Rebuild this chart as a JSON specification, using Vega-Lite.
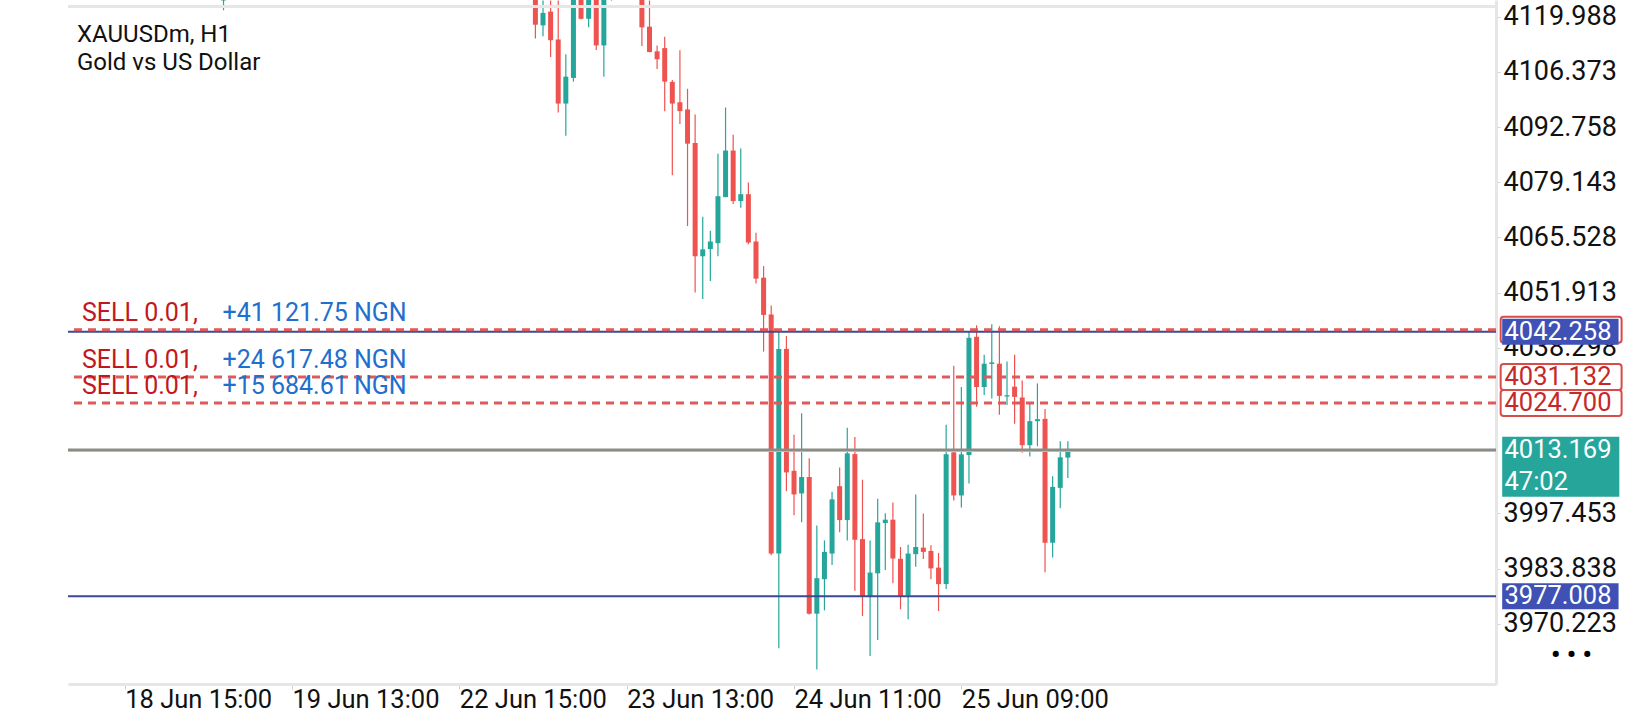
{
  "$schema": "https://vega.github.io/schema/vega-lite/v6.json",
  "width": 1428,
  "height": 684,
  "autosize": "none",
  "padding": {"left": 68, "top": 0, "right": 144, "bottom": 36},
  "background": "#ffffff",
  "title": {
    "text": "XAUUSDm, H1",
    "subtitle": "Gold vs US Dollar",
    "anchor": "start",
    "frame": "group",
    "orient": "top",
    "offset": -75,
    "dx": 9,
    "font": "Roboto",
    "fontSize": 24,
    "fontWeight": "normal",
    "color": "#111111",
    "subtitleFont": "Roboto",
    "subtitleFontSize": 24,
    "subtitleColor": "#111111",
    "subtitlePadding": 4
  },
  "datasets": {
    "candles": [
      {"i": 13, "o": 4124, "h": 4130, "l": 4121.6, "c": 4128},
      {"i": 54, "o": 4127, "h": 4129, "l": 4114.62, "c": 4118.03},
      {"i": 55, "o": 4117.86, "h": 4124, "l": 4115.18, "c": 4120.94},
      {"i": 56, "o": 4121.26, "h": 4124, "l": 4110.07, "c": 4114.21},
      {"i": 57, "o": 4114.38, "h": 4124, "l": 4096.38, "c": 4098.57},
      {"i": 58, "o": 4098.57, "h": 4110.73, "l": 4090.62, "c": 4105.21},
      {"i": 59, "o": 4104.89, "h": 4128, "l": 4103.99, "c": 4126},
      {"i": 60, "o": 4126, "h": 4128, "l": 4119.3, "c": 4119.48},
      {"i": 61, "o": 4119.48, "h": 4127, "l": 4117.37, "c": 4125},
      {"i": 62, "o": 4127, "h": 4129, "l": 4111.78, "c": 4112.92},
      {"i": 63, "o": 4112.92, "h": 4128, "l": 4105.21, "c": 4126},
      {"i": 64, "o": 4126, "h": 4134, "l": 4124, "c": 4132},
      {"i": 65, "o": 4132, "h": 4135, "l": 4125, "c": 4128},
      {"i": 66, "o": 4128, "h": 4136, "l": 4126, "c": 4133},
      {"i": 67, "o": 4133, "h": 4135, "l": 4125, "c": 4127},
      {"i": 68, "o": 4127, "h": 4129, "l": 4112.75, "c": 4117.37},
      {"i": 69, "o": 4117.54, "h": 4124, "l": 4111.2, "c": 4111.29},
      {"i": 70, "o": 4111.46, "h": 4112.92, "l": 4107.08, "c": 4109.51},
      {"i": 71, "o": 4112.26, "h": 4115.03, "l": 4096.7, "c": 4103.99},
      {"i": 72, "o": 4103.92, "h": 4104.41, "l": 4080.9, "c": 4098.57},
      {"i": 73, "o": 4098.89, "h": 4111.7, "l": 4093.54, "c": 4096.7},
      {"i": 74, "o": 4097.12, "h": 4102.22, "l": 4068.35, "c": 4088.68},
      {"i": 75, "o": 4088.85, "h": 4095.9, "l": 4051.97, "c": 4060.89},
      {"i": 76, "o": 4060.89, "h": 4070.62, "l": 4050.36, "c": 4062.59},
      {"i": 77, "o": 4062.66, "h": 4067.21, "l": 4054.81, "c": 4064.54},
      {"i": 78, "o": 4064.12, "h": 4086.18, "l": 4060.89, "c": 4075.72},
      {"i": 79, "o": 4075.48, "h": 4097.6, "l": 4075.48, "c": 4086.98},
      {"i": 80, "o": 4086.98, "h": 4090.87, "l": 4073.78, "c": 4074.51},
      {"i": 81, "o": 4074.51, "h": 4087.46, "l": 4072.88, "c": 4076.21},
      {"i": 82, "o": 4076.21, "h": 4079.12, "l": 4063.88, "c": 4064.29},
      {"i": 83, "o": 4064.54, "h": 4066.72, "l": 4054.15, "c": 4055.37},
      {"i": 84, "o": 4055.61, "h": 4058.46, "l": 4037.38, "c": 4046.42},
      {"i": 85, "o": 4046.55, "h": 4048.73, "l": 3987.15, "c": 3987.54},
      {"i": 86, "o": 3987.54, "h": 4042.24, "l": 3964.2, "c": 4038.04},
      {"i": 87, "o": 4038.04, "h": 4041.2, "l": 4002.95, "c": 4007.57},
      {"i": 88, "o": 4007.96, "h": 4016.88, "l": 3997.02, "c": 4002.13},
      {"i": 89, "o": 4002.37, "h": 4022.16, "l": 3995.24, "c": 4006.43},
      {"i": 90, "o": 4006.43, "h": 4011.05, "l": 3972.5, "c": 3972.71},
      {"i": 91, "o": 3972.71, "h": 3994.44, "l": 3958.95, "c": 3981.46},
      {"i": 92, "o": 3981.22, "h": 3990.79, "l": 3973.53, "c": 3987.95},
      {"i": 93, "o": 3987.54, "h": 4002.78, "l": 3984.72, "c": 4000.91},
      {"i": 94, "o": 4004.17, "h": 4008.79, "l": 3992.81, "c": 3995.8},
      {"i": 95, "o": 3995.8, "h": 4018.59, "l": 3990.79, "c": 4012.26},
      {"i": 96, "o": 4012.09, "h": 4016.32, "l": 3978.39, "c": 3990.94},
      {"i": 97, "o": 3991.11, "h": 4005.77, "l": 3972.15, "c": 3976.84},
      {"i": 98, "o": 3976.84, "h": 3990.79, "l": 3962.25, "c": 3982.85},
      {"i": 99, "o": 3982.67, "h": 4001.08, "l": 3966.24, "c": 3995.24},
      {"i": 100, "o": 3995.07, "h": 3997.51, "l": 3983.5, "c": 3995.9},
      {"i": 101, "o": 3995.9, "h": 4000.11, "l": 3980.24, "c": 3986.32},
      {"i": 102, "o": 3986.25, "h": 3989.16, "l": 3973.78, "c": 3977.01},
      {"i": 103, "o": 3977.18, "h": 3989.72, "l": 3971.34, "c": 3987.54},
      {"i": 104, "o": 3987.39, "h": 4002.13, "l": 3984.3, "c": 3989.16},
      {"i": 105, "o": 3989.0, "h": 3997.43, "l": 3986.17, "c": 3987.95},
      {"i": 106, "o": 3988.19, "h": 3989.58, "l": 3981.22, "c": 3983.89},
      {"i": 107, "o": 3984.06, "h": 3987.7, "l": 3973.36, "c": 3980.0},
      {"i": 108, "o": 3980.0, "h": 4019.31, "l": 3978.78, "c": 4012.02},
      {"i": 109, "o": 4012.51, "h": 4033.9, "l": 4000.66, "c": 4001.88},
      {"i": 110, "o": 4001.88, "h": 4028.63, "l": 3998.89, "c": 4012.02},
      {"i": 111, "o": 4011.85, "h": 4042.24, "l": 4004.8, "c": 4040.78},
      {"i": 112, "o": 4041.03, "h": 4043.87, "l": 4023.76, "c": 4028.63},
      {"i": 113, "o": 4028.63, "h": 4036.58, "l": 4026.68, "c": 4034.39},
      {"i": 114, "o": 4034.32, "h": 4044.11, "l": 4025.81, "c": 4034.7},
      {"i": 115, "o": 4034.39, "h": 4043.63, "l": 4021.82, "c": 4026.44},
      {"i": 116, "o": 4026.29, "h": 4034.95, "l": 4024.18, "c": 4026.61},
      {"i": 117, "o": 4028.72, "h": 4036.58, "l": 4019.56, "c": 4026.2},
      {"i": 118, "o": 4026.05, "h": 4030.26, "l": 4012.43, "c": 4014.28},
      {"i": 119, "o": 4014.28, "h": 4024.42, "l": 4011.46, "c": 4020.21},
      {"i": 120, "o": 4020.21, "h": 4029.53, "l": 4014.04, "c": 4020.7},
      {"i": 121, "o": 4020.77, "h": 4023.2, "l": 3982.92, "c": 3990.21},
      {"i": 122, "o": 3990.21, "h": 4006.6, "l": 3986.56, "c": 4003.99},
      {"i": 123, "o": 4003.75, "h": 4015.25, "l": 3998.72, "c": 4011.29},
      {"i": 124, "o": 4011.22, "h": 4015.25, "l": 4006.18, "c": 4013.169}
    ],
    "orders": [
      {"price": 4042.77, "side": "SELL 0.01,", "profit": "+41 121.75 NGN", "label": ""},
      {"price": 4031.132, "side": "SELL 0.01,", "profit": "+24 617.48 NGN", "label": "4031.132"},
      {"price": 4024.7, "side": "SELL 0.01,", "profit": "+15 684.61 NGN", "label": "4024.700"}
    ],
    "hilo": [
      {"price": 4042.258, "label": "4042.258"},
      {"price": 3977.008, "label": "3977.008"}
    ],
    "last": [
      {"price": 4013.169, "label": "4013.169", "timer": "47:02"}
    ]
  },
  "layer": [
    {
      "data": {"name": "candles"},
      "mark": {"type": "rule", "clip": true, "strokeWidth": 1.2},
      "encoding": {
        "x": {
          "field": "i",
          "type": "quantitative",
          "scale": {"domain": [-6.79, 179.63], "nice": false, "zero": false},
          "axis": {
            "orient": "bottom",
            "values": [0, 22, 44, 66, 88, 110],
            "labelExpr": "['18 Jun 15:00','19 Jun 13:00','22 Jun 15:00','23 Jun 13:00','24 Jun 11:00','25 Jun 09:00'][datum.value / 22]",
            "title": null,
            "grid": false,
            "domainColor": "#e6e6e6",
            "domainWidth": 3,
            "tickColor": "#d0d0d0",
            "tickSize": 5,
            "labelAlign": "left",
            "labelBaseline": "alphabetic",
            "labelPadding": 18,
            "labelDx": -3,
            "labelFont": "Roboto",
            "labelFontSize": 25.5,
            "labelColor": "#111111",
            "labelOverlap": false,
            "labelFlush": false
          }
        },
        "y": {
          "field": "l",
          "type": "quantitative",
          "scale": {"domain": [3956.59, 4122.89], "nice": false, "zero": false},
          "axis": {
            "orient": "right",
            "values": [3970.223, 3983.838, 3997.453, 4038.298, 4051.913, 4065.528, 4079.143, 4092.758, 4106.373, 4119.988],
            "format": ".3f",
            "title": null,
            "grid": false,
            "domainColor": "#e6e6e6",
            "domainWidth": 3,
            "tickColor": "#d0d0d0",
            "tickSize": 4,
            "labelAlign": "left",
            "labelBaseline": "middle",
            "labelPadding": 3,
            "labelFont": "Roboto",
            "labelFontSize": 27,
            "labelColor": "#111111",
            "labelOverlap": false,
            "labelFlush": false
          }
        },
        "y2": {"field": "h"},
        "color": {
          "condition": {"test": "datum.o <= datum.c", "value": "#26a69a"},
          "value": "#ef5350"
        }
      }
    },
    {
      "data": {"name": "candles"},
      "mark": {"type": "bar", "clip": true, "width": 5},
      "encoding": {
        "x": {"field": "i", "type": "quantitative"},
        "y": {"field": "o", "type": "quantitative"},
        "y2": {"field": "c"},
        "color": {
          "condition": {"test": "datum.o <= datum.c", "value": "#26a69a"},
          "value": "#ef5350"
        }
      }
    },
    {
      "data": {"values": [{}]},
      "mark": {"type": "rule", "color": "#e6e6e6", "strokeWidth": 3},
      "encoding": {"y": {"datum": 4122.5, "type": "quantitative"}}
    },
    {
      "data": {"name": "hilo"},
      "mark": {"type": "rule", "color": "#3d4992", "strokeWidth": 2},
      "encoding": {"y": {"field": "price", "type": "quantitative"}}
    },
    {
      "data": {"name": "last"},
      "mark": {"type": "rule", "color": "#8c8c86", "strokeWidth": 2.5},
      "encoding": {"y": {"field": "price", "type": "quantitative"}}
    },
    {
      "data": {"name": "last"},
      "mark": {"type": "rule", "color": "#7fd3c9", "strokeWidth": 1, "yOffset": 1.8},
      "encoding": {"y": {"field": "price", "type": "quantitative"}}
    },
    {
      "data": {"name": "orders"},
      "mark": {"type": "rule", "color": "#e05a5a", "strokeWidth": 3, "strokeDash": [8, 6]},
      "encoding": {"y": {"field": "price", "type": "quantitative"}}
    },
    {
      "data": {"name": "orders"},
      "mark": {"type": "text", "align": "left", "baseline": "alphabetic", "dy": -9, "font": "Roboto", "fontSize": 25, "color": "#c0181e"},
      "encoding": {
        "x": {"datum": -5.61, "type": "quantitative"},
        "y": {"field": "price", "type": "quantitative"},
        "text": {"field": "side"}
      }
    },
    {
      "data": {"name": "orders"},
      "mark": {"type": "text", "align": "left", "baseline": "alphabetic", "dy": -9, "font": "Roboto", "fontSize": 25, "color": "#1f6fce"},
      "encoding": {
        "x": {"datum": 12.86, "type": "quantitative"},
        "y": {"field": "price", "type": "quantitative"},
        "text": {"field": "profit"}
      }
    },
    {
      "data": {"name": "orders"},
      "mark": {"type": "bar", "height": 26, "fill": "#ffffff", "stroke": "#d94a48", "strokeWidth": 2, "cornerRadius": 3},
      "encoding": {
        "x": {"datum": 180.9, "type": "quantitative"},
        "x2": {"datum": 196.8},
        "y": {"field": "price", "type": "quantitative"}
      }
    },
    {
      "data": {"name": "orders"},
      "mark": {"type": "text", "align": "left", "baseline": "middle", "font": "Roboto", "fontSize": 25.5, "color": "#c62828"},
      "encoding": {
        "x": {"datum": 181.4, "type": "quantitative"},
        "y": {"field": "price", "type": "quantitative"},
        "text": {"field": "label"}
      }
    },
    {
      "data": {"name": "hilo"},
      "mark": {"type": "bar", "height": 26, "fill": "#3f51b5"},
      "encoding": {
        "x": {"datum": 181.1, "type": "quantitative"},
        "x2": {"datum": 196.4},
        "y": {"field": "price", "type": "quantitative"}
      }
    },
    {
      "data": {"name": "hilo"},
      "mark": {"type": "text", "align": "left", "baseline": "middle", "font": "Roboto", "fontSize": 25.5, "color": "#ffffff"},
      "encoding": {
        "x": {"datum": 181.4, "type": "quantitative"},
        "y": {"field": "price", "type": "quantitative"},
        "text": {"field": "label"}
      }
    },
    {
      "data": {"name": "last"},
      "mark": {"type": "bar", "height": 60, "yOffset": 17, "fill": "#26a69a"},
      "encoding": {
        "x": {"datum": 181.1, "type": "quantitative"},
        "x2": {"datum": 196.5},
        "y": {"field": "price", "type": "quantitative"}
      }
    },
    {
      "data": {"name": "last"},
      "mark": {"type": "text", "align": "left", "baseline": "middle", "font": "Roboto", "fontSize": 25.5, "color": "#ffffff"},
      "encoding": {
        "x": {"datum": 181.4, "type": "quantitative"},
        "y": {"field": "price", "type": "quantitative"},
        "text": {"field": "label"}
      }
    },
    {
      "data": {"name": "last"},
      "mark": {"type": "text", "align": "left", "baseline": "middle", "dy": 32, "font": "Roboto", "fontSize": 25.5, "color": "#ffffff"},
      "encoding": {
        "x": {"datum": 181.4, "type": "quantitative"},
        "y": {"field": "price", "type": "quantitative"},
        "text": {"field": "timer"}
      }
    },
    {
      "data": {"values": [{}]},
      "mark": {"type": "text", "align": "center", "baseline": "middle", "font": "Roboto", "fontSize": 26, "fontWeight": "bold", "color": "#000000", "text": "• • •"},
      "encoding": {
        "x": {"datum": 190.2, "type": "quantitative"},
        "y": {"datum": 3962.4, "type": "quantitative"}
      }
    }
  ],
  "config": {
    "view": {"stroke": null},
    "bar": {"continuousBandSize": 5}
  }
}
